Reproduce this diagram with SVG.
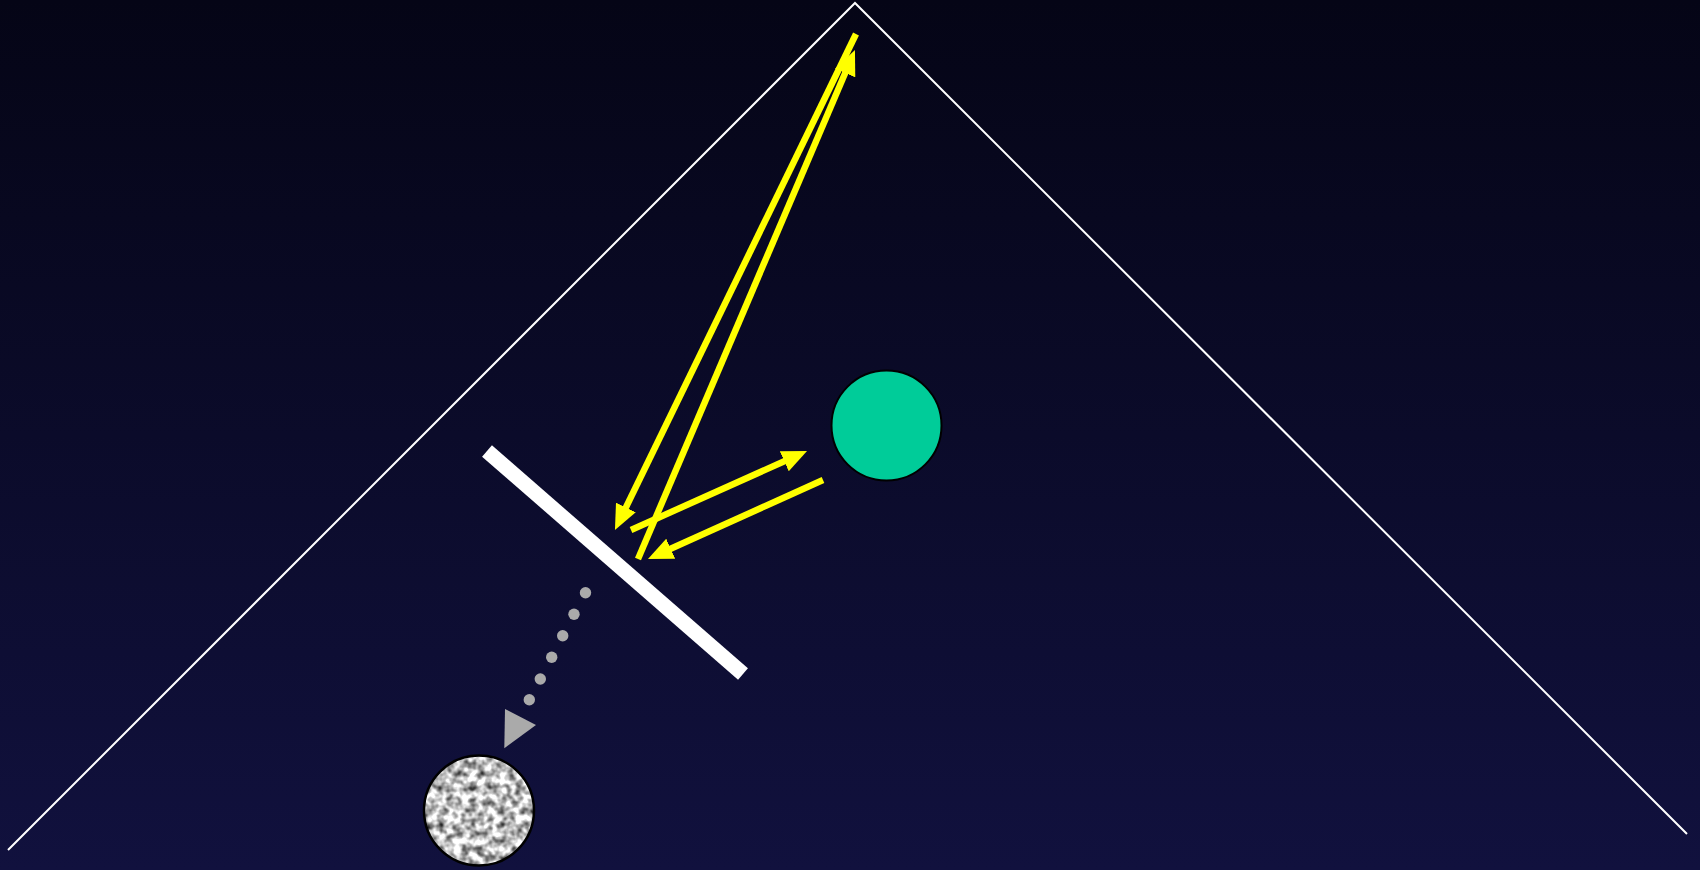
<svg xmlns="http://www.w3.org/2000/svg" width="1700" height="870" viewBox="0 0 1700 870">
  <defs>
    <linearGradient id="bg" x1="0" y1="0" x2="0" y2="1">
      <stop offset="0" stop-color="#050516"/>
      <stop offset="1" stop-color="#11113e"/>
    </linearGradient>
    <marker id="ah" markerUnits="userSpaceOnUse" viewBox="0 0 25 22" markerWidth="25" markerHeight="22" refX="5" refY="11" orient="auto">
      <path d="M0,0 L25,11 L0,22 Z" fill="#ffff00"/>
    </marker>
    <filter id="noise" x="0" y="0" width="100%" height="100%" color-interpolation-filters="sRGB">
      <feTurbulence type="fractalNoise" baseFrequency="0.13" numOctaves="2" seed="7" result="t"/>
      <feColorMatrix in="t" type="matrix" values="1.6 0 0 0 -0.05  1.6 0 0 0 -0.05  1.6 0 0 0 -0.05  0 0 0 0 1" result="g"/>
      <feComposite in="g" in2="SourceGraphic" operator="in"/>
    </filter>
    <style>
      .frame{fill:none;stroke:#ffffff;stroke-width:2}
      .ray{fill:none;stroke:#ffff00;stroke-width:6.5;marker-end:url(#ah)}
      .dot{fill:#aaaaaa}
    </style>
  </defs>
  <rect x="0" y="0" width="1700" height="870" fill="url(#bg)"/>

  <g id="frame">
    <polyline class="frame" points="8,850 855,3 1687,834"/>
  </g>

  <g id="mirror">
    <line x1="487" y1="451" x2="743" y2="674" stroke="#ffffff" stroke-width="15"/>
  </g>

  <g id="target">
    <circle cx="886.5" cy="425.5" r="55" fill="#00cc99" stroke="#000000" stroke-width="2"/>
  </g>

  <g id="textured-ball">
    <circle cx="479" cy="810.5" r="55" fill="#ffffff" filter="url(#noise)"/>
    <circle cx="479" cy="810.5" r="55" fill="none" stroke="#000000" stroke-width="2.5"/>
  </g>

  <g id="connectors">
    <line class="ray" x1="856" y1="34" x2="623.7" y2="512"/>
    <line class="ray" x1="638" y1="559" x2="847.1" y2="68.4"/>
    <line class="ray" x1="631" y1="530" x2="788.8" y2="459.2"/>
    <line class="ray" x1="823" y1="480" x2="666.2" y2="550.8"/>
    <g id="dotted-path">
      <circle class="dot" cx="585.5" cy="592.7" r="5.7"/>
      <circle class="dot" cx="574" cy="614.3" r="5.7"/>
      <circle class="dot" cx="562.7" cy="635.8" r="5.7"/>
      <circle class="dot" cx="551.7" cy="657.3" r="5.7"/>
      <circle class="dot" cx="540.3" cy="679" r="5.7"/>
      <circle class="dot" cx="529.3" cy="699.8" r="5.7"/>
      <polygon points="505,709 536,725 504.3,748.3" fill="#aaaaaa"/>
    </g>
  </g>
</svg>
